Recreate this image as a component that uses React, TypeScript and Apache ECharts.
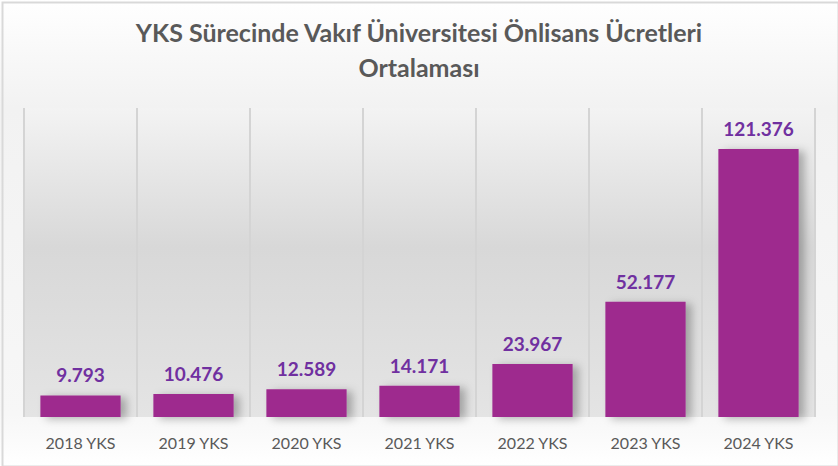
import React, { useEffect, useRef } from "react";
import * as echarts from "echarts";

const categories: string[] = ["2018 YKS", "2019 YKS", "2020 YKS", "2021 YKS", "2022 YKS", "2023 YKS", "2024 YKS"];
const values: number[] = [9793, 10476, 12589, 14171, 23967, 52177, 121376];
const titleText = "YKS Sürecinde Vakıf Üniversitesi Önlisans Ücretleri\nOrtalaması";

function fmt(v: number): string {
  const s = Math.round(v).toString();
  return s.replace(/\B(?=(\d{3})+(?!\d))/g, ".");
}

export default function App() {
  const ref = useRef<HTMLDivElement>(null);
  useEffect(() => {
    document.body.style.margin = "0";
    if (!ref.current) return;
    const chart = echarts.init(ref.current, null, { renderer: "svg" });
    chart.setOption({
      animation: false,
      backgroundColor: new echarts.graphic.LinearGradient(0, 0, 0, 1, [
        { offset: 0, color: "#ffffff" },
        { offset: 0.23, color: "#f2f2f2" },
        { offset: 0.89, color: "#f7f7f7" },
        { offset: 1, color: "#ffffff" },
      ]),
      title: {
        text: titleText,
        left: "center",
        top: 14,
        padding: 0,
        textStyle: {
          fontFamily: "Lato",
          fontWeight: "bold",
          fontSize: 25,
          lineHeight: 35,
          color: "#595959",
        },
      },
      graphic: [
        {
          type: "rect",
          left: 0,
          top: 0,
          shape: { x: 1, y: 1, width: 836, height: 464 },
          style: { fill: "none", stroke: "#d9d9d9", lineWidth: 2 },
          silent: true,
          z: 100,
        },
      ],
      grid: {
        left: 24,
        right: 23,
        top: 108,
        bottom: 49,
        show: true,
        borderWidth: 0,
        backgroundColor: new echarts.graphic.LinearGradient(0, 0, 0, 1, [
          { offset: 0, color: "#f3f3f3" },
          { offset: 0.45, color: "#d8d8d8" },
          { offset: 1, color: "#e4e4e4" },
        ]),
      },
      xAxis: {
        type: "category",
        data: categories,
        axisLine: { show: false },
        axisTick: { show: false },
        axisLabel: {
          margin: 17,
          fontFamily: "Lato",
          fontSize: 16,
          color: "#595959",
        },
        splitLine: { show: true, lineStyle: { color: "#d4d4d4", width: 2 } },
      },
      yAxis: {
        type: "value",
        min: 0,
        max: 140000,
        show: false,
        splitLine: { show: false },
      },
      series: [
        {
          type: "bar",
          data: values,
          barCategoryGap: "29%",
          itemStyle: {
            color: "#9e2a8e",
            shadowColor: "rgba(0,0,0,0.28)",
            shadowBlur: 8,
            shadowOffsetX: 6,
            shadowOffsetY: 2,
          },
          label: {
            show: true,
            position: "top",
            distance: 11,
            fontFamily: "Lato",
            fontWeight: "bold",
            fontSize: 19,
            color: "#7030a0",
            formatter: (p: any) => fmt(p.value),
          },
        },
      ],
    });
    return () => chart.dispose();
  }, []);
  return <div ref={ref} style={{ width: 838, height: 466 }} />;
}
